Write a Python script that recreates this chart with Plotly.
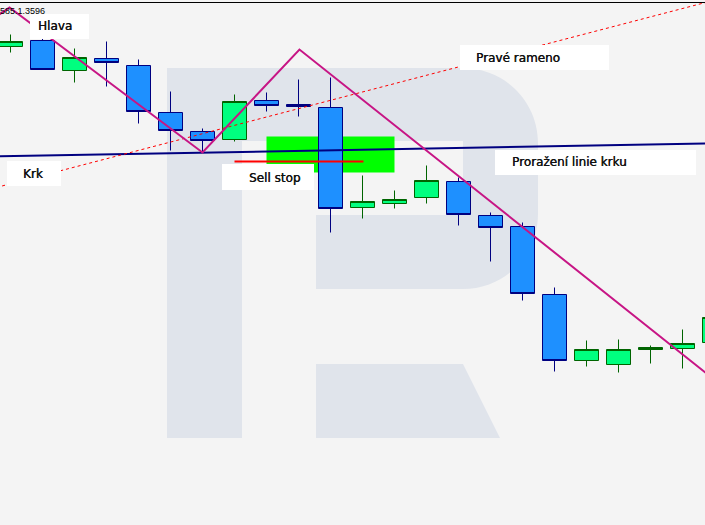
import plotly.graph_objects as go

# ---- data ----
bar_index = list(range(23))
opens = [1.35906, 1.35918, 1.35858, 1.35882, 1.35868, 1.35774, 1.35736, 1.35720, 1.35798, 1.35790,
         1.35784, 1.35584, 1.35592, 1.35604, 1.35636, 1.35568, 1.35546, 1.35410, 1.35278, 1.35270,
         1.35300, 1.35302, 1.35314]
highs = [1.35930, 1.35924, 1.35902, 1.35916, 1.35880, 1.35816, 1.35742, 1.35810, 1.35814, 1.35840,
         1.35844, 1.35648, 1.35618, 1.35668, 1.35644, 1.35574, 1.35554, 1.35424, 1.35318, 1.35320,
         1.35308, 1.35340, 1.35400]
lows = [1.35894, 1.35860, 1.35834, 1.35826, 1.35752, 1.35698, 1.35694, 1.35716, 1.35776, 1.35766,
        1.35534, 1.35562, 1.35582, 1.35592, 1.35548, 1.35476, 1.35398, 1.35256, 1.35266, 1.35254,
        1.35272, 1.35262, 1.35300]
closes = [1.35916, 1.35860, 1.35884, 1.35874, 1.35776, 1.35738, 1.35718, 1.35796, 1.35788, 1.35786,
          1.35582, 1.35596, 1.35600, 1.35638, 1.35570, 1.35544, 1.35412, 1.35278, 1.35300, 1.35300,
          1.35304, 1.35312, 1.35364]

pattern_x = [-0.625, -0.031, 6.0, 9.03, 22.5]
pattern_y = [1.35958, 1.35984, 1.35694, 1.35900, 1.35214]

trend_x = [-0.625, 22.5]
trend_y = [1.35621, 1.36007]

neck_x = [-0.625, 22.5]
neck_y = [1.35686, 1.35713]

sellstop_x = [7.0, 11.03]
sellstop_y = [1.35676, 1.35676]

zone_x = [8.0, 12.0]
zone_y = [1.35654, 1.35726]

price_corner_text = "585.1.3596"
label_texts = ["Hlava", "Krk", "Sell stop", "Pravé rameno", "Proražení linie krku"]

# ---- figure ----
W, H = 705, 525


def px(x):
    return x / W


def py(y):
    return 1 - y / H


fig = go.Figure()

fig.add_trace(go.Candlestick(
    x=bar_index, open=opens, high=highs, low=lows, close=closes,
    increasing=dict(fillcolor="#00FF7F", line=dict(color="#006400", width=1)),
    decreasing=dict(fillcolor="#1E90FF", line=dict(color="#000080", width=1)),
    whiskerwidth=0, hoverinfo="skip", showlegend=False,
))

fig.add_trace(go.Scatter(x=neck_x, y=neck_y, mode="lines",
                         line=dict(color="#000080", width=2), hoverinfo="skip", showlegend=False))
fig.add_trace(go.Scatter(x=trend_x, y=trend_y, mode="lines",
                         line=dict(color="#FF0000", width=1, dash="3px,3px"), hoverinfo="skip", showlegend=False))
fig.add_trace(go.Scatter(x=sellstop_x, y=sellstop_y, mode="lines",
                         line=dict(color="#FF0000", width=2), hoverinfo="skip", showlegend=False))
fig.add_trace(go.Scatter(x=pattern_x, y=pattern_y, mode="lines",
                         line=dict(color="#C71585", width=2), hoverinfo="skip", showlegend=False))

shapes = []
wm = "#E0E4EB"
k = 0.5523 * 75
# watermark "R": stem + bowl
pts = [
    ("M", [(167, 68)]), ("L", [(463, 68)]),
    ("C", [(463 + k, 68), (538, 143 - k), (538, 143)]),
    ("L", [(538, 214)]),
    ("C", [(538, 214 + k), (463 + k, 289), (463, 289)]),
    ("L", [(316, 289)]), ("L", [(316, 215)]), ("L", [(463, 215)]), ("L", [(463, 141)]),
    ("L", [(242, 141)]), ("L", [(242, 438)]), ("L", [(167, 438)]),
]
path = ""
for cmd, plist in pts:
    path += cmd + " " + " ".join(f"{px(a):.5f},{py(b):.5f}" for a, b in plist) + " "
path += "Z"
shapes.append(dict(type="path", xref="paper", yref="paper", path=path,
                   fillcolor=wm, line=dict(width=0), layer="below"))
leg = [(316, 364), (463, 364), (500, 438), (316, 438)]
path2 = "M " + " L ".join(f"{px(a):.5f},{py(b):.5f}" for a, b in leg) + " Z"
shapes.append(dict(type="path", xref="paper", yref="paper", path=path2,
                   fillcolor=wm, line=dict(width=0), layer="below"))

# sell-stop zone
shapes.append(dict(type="rect", xref="x", yref="y", x0=zone_x[0], x1=zone_x[1],
                   y0=zone_y[0], y1=zone_y[1], fillcolor="#00FF00", line=dict(width=0), layer="below"))

# top frame line
shapes.append(dict(type="line", xref="paper", yref="paper", x0=0, x1=1, y0=py(2.5), y1=py(2.5),
                   line=dict(color="#000000", width=1), layer="above"))

# label boxes (pixel positions)
boxes = [(30, 14, 89, 39), (7, 161, 61, 186), (222, 164, 314, 190), (460, 45, 609, 70), (495, 150, 696, 175)]
text_pos = [(38, 26.5), (23, 174), (249, 178), (476, 57.5), (512, 162)]
for (x0, y0, x1, y1) in boxes:
    shapes.append(dict(type="rect", xref="paper", yref="paper", x0=px(x0), x1=px(x1),
                       y0=py(y1), y1=py(y0), fillcolor="#FFFFFF", line=dict(width=0), layer="above"))

annotations = []
for t, (tx, ty) in zip(label_texts, text_pos):
    annotations.append(dict(text=t, xref="paper", yref="paper", x=px(tx - 2), y=py(ty),
                            xanchor="left", yanchor="middle", showarrow=False,
                            font=dict(family="DejaVu Sans", size=12, color="#111111",
                                      shadow="0.35px 0px 0px #111111")))
annotations.append(dict(text=price_corner_text, xref="paper", yref="paper", x=px(-2), y=py(10.5),
                        xanchor="left", yanchor="middle", showarrow=False,
                        font=dict(family="Liberation Sans", size=9, color="#000000")))

fig.update_layout(
    width=W, height=H,
    margin=dict(l=0, r=0, t=0, b=0),
    paper_bgcolor="#F4F4F4", plot_bgcolor="#F4F4F4",
    boxgap=0.25, boxgroupgap=0,
    xaxis=dict(range=[-0.328125, 21.703125], visible=False, rangeslider=dict(visible=False),
               fixedrange=True),
    yaxis=dict(range=[1.34949, 1.35999], visible=False, fixedrange=True),
    shapes=shapes, annotations=annotations,
    hovermode=False, showlegend=False,
)

fig.write_html("out.html", config={"displayModeBar": False},
               post_script="document.body.style.margin='0';document.body.style.overflow='hidden';")
